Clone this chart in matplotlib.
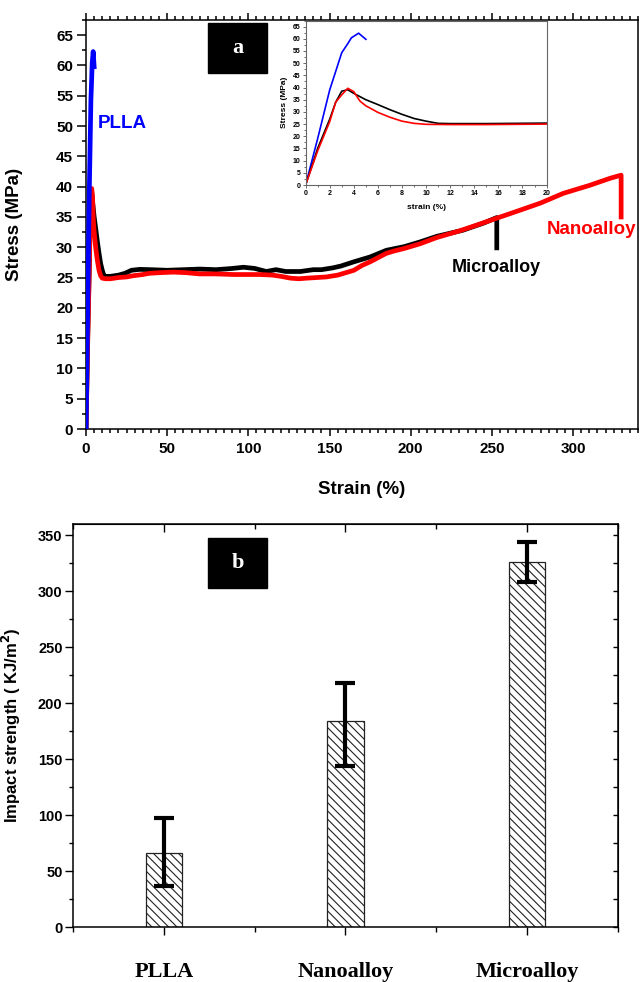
import matplotlib
matplotlib.use("Agg")
import matplotlib.pyplot as plt
from matplotlib.patches import Rectangle
from matplotlib.ticker import MultipleLocator

plt.rcParams['font.family'] = ['Liberation Sans', 'DejaVu Sans']
plt.rcParams['font.weight'] = 'bold'
plt.rcParams['hatch.linewidth'] = 0.8

# tensile curves (strain %, stress MPa)
plla_strain = [0, 1, 2, 3, 3.5, 3.8, 4.4, 5.0]
plla_stress = [0, 19, 39, 54.3, 58, 60.4, 62.3, 59.8]

nano_strain = [0, 1, 2, 2.5, 3, 3.5, 4, 4.5, 5, 6, 7, 8, 9, 10, 12, 15, 20, 25, 29,
               35, 39, 45, 54, 62, 70, 80, 91, 100, 107, 115, 120, 126, 131, 136,
               142, 148, 155, 160, 165, 170, 175, 180, 185, 190, 196, 206, 216,
               230, 240, 253, 265, 280, 294, 310, 323, 329.6, 329.6]
nano_stress = [0, 14, 26, 34, 37, 39.7, 38.3, 34.5, 32.5, 29.8, 27.8, 26.2, 25.3,
               24.9, 24.8, 24.8, 25.0, 25.1, 25.3, 25.5, 25.7, 25.8, 25.9, 25.8,
               25.6, 25.6, 25.5, 25.5, 25.5, 25.4, 25.2, 24.9, 24.8, 24.9, 25.0,
               25.1, 25.4, 25.8, 26.2, 27.0, 27.6, 28.3, 29.0, 29.4, 29.8, 30.6,
               31.6, 32.7, 33.6, 34.8, 35.9, 37.3, 38.9, 40.2, 41.4, 41.9, 35.0]

micro_strain = [0, 1, 2, 2.5, 3, 3.5, 4, 5, 6, 7, 8, 9, 10, 11, 12, 15, 20, 24,
                28, 33, 40, 50, 60, 70, 80, 90, 97, 104, 111, 117, 123, 132, 140,
                145, 152, 157, 165, 175, 185, 196, 206, 216, 232, 245, 253, 253]
micro_stress = [0, 15, 27, 34, 38.5, 39.1, 37.6, 35, 33, 30.9, 29, 27.3, 26.2,
                25.3, 25.2, 25.2, 25.4, 25.7, 26.2, 26.35, 26.3, 26.2, 26.3, 26.4,
                26.3, 26.5, 26.7, 26.5, 26.0, 26.3, 26.0, 26.0, 26.3, 26.3, 26.6,
                26.9, 27.6, 28.4, 29.5, 30.1, 30.9, 31.8, 32.8, 34.0, 34.9, 29.9]

# impact strength
samples = ['PLLA', 'Nanoalloy', 'Microalloy']
impact = [66, 184, 326]
err_low = [29, 40, 18]
err_high = [31, 34, 18]

fig = plt.figure(figsize=(6.42, 9.82), dpi=100)

# ---- panel a
ax = fig.add_axes([0.134, 0.5631, 0.8598, 0.4165])
ax.plot(plla_strain, plla_stress, color='#0000ff', lw=3.4, zorder=4)
ax.plot(micro_strain, micro_stress, color='black', lw=3.4, zorder=2)
ax.plot(nano_strain, nano_stress, color='#ff0000', lw=3.4, zorder=3)
ax.set_xlim(0, 340)
ax.set_ylim(0, 67.5)
ax.xaxis.set_major_locator(MultipleLocator(50))
ax.xaxis.set_minor_locator(MultipleLocator(5))
ax.yaxis.set_major_locator(MultipleLocator(5))
ax.yaxis.set_minor_locator(MultipleLocator(2.5))
ax.tick_params(which='both', direction='out', top=True, right=False, width=1.1,
               labelsize=11)
ax.tick_params(axis='y', which='major', length=6.3, pad=3)
ax.tick_params(axis='y', which='minor', length=3.1)
ax.tick_params(axis='x', which='major', length=5, pad=4)
ax.tick_params(axis='x', which='minor', length=3)
for s in ax.spines.values():
    s.set_linewidth(1.1)
ax.set_xlabel('Strain (%)', fontsize=13.5, fontweight='bold')
ax.set_ylabel('Stress (MPa)', fontsize=13.5, fontweight='bold')
ax.xaxis.set_label_coords(0.5, -0.127)
ax.yaxis.set_label_coords(-0.114, 0.5)
ax.text(7.4, 50.5, 'PLLA', color='#0000ff', fontsize=13.5, fontweight='bold',
        va='center', ha='left')
ax.text(284, 33.0, 'Nanoalloy', color='#ff0000', fontsize=13.5, fontweight='bold',
        va='center', ha='left', clip_on=False)
ax.text(253, 26.6, 'Microalloy', color='black', fontsize=13, fontweight='bold',
        va='center', ha='center')

# inset
ins = fig.add_axes([0.476, 0.8116, 0.3754, 0.1675])
ins.plot(plla_strain, plla_stress, color='#0000ff', lw=1.2)
ins.plot(micro_strain, micro_stress, color='black', lw=1.2)
ins.plot(nano_strain, nano_stress, color='#ff0000', lw=1.2)
ins.set_xlim(0, 20)
ins.set_ylim(0, 67.5)
ins.xaxis.set_major_locator(MultipleLocator(2))
ins.xaxis.set_minor_locator(MultipleLocator(1))
ins.yaxis.set_major_locator(MultipleLocator(5))
ins.yaxis.set_minor_locator(MultipleLocator(2.5))
ins.tick_params(which='both', direction='out', labelsize=5, width=0.6,
                color='#555555', pad=1.5)
ins.tick_params(which='major', length=2.2)
ins.tick_params(which='minor', length=1.2)
for s in ins.spines.values():
    s.set_color('#666666')
    s.set_linewidth(0.8)
ins.set_xlabel('strain (%)', fontsize=6, fontweight='bold', labelpad=5)
ins.set_ylabel('Stress (MPa)', fontsize=6, fontweight='bold', labelpad=3)

# ---- panel b
bx = fig.add_axes([0.1137, 0.056, 0.8489, 0.4104])
xpos = [1, 2, 3]
bx.bar(xpos, impact, width=0.2, color='white', edgecolor='#222222', linewidth=0.9,
       hatch='\\\\\\\\', zorder=2)
bx.errorbar(xpos, impact, yerr=[err_low, err_high], fmt='none', ecolor='black',
            elinewidth=3, capsize=7, capthick=3, zorder=3)
bx.set_xlim(0.5, 3.5)
bx.set_ylim(0, 360)
bx.set_xticks(xpos)
bx.set_xticklabels(samples, fontsize=16, fontweight='bold',
                   family=['Liberation Serif', 'DejaVu Serif'])
bx.xaxis.set_minor_locator(MultipleLocator(0.5))
bx.yaxis.set_major_locator(MultipleLocator(50))
bx.yaxis.set_minor_locator(MultipleLocator(25))
bx.tick_params(which='both', direction='out', width=1.0)
bx.tick_params(axis='y', which='major', length=5.5, labelsize=10.5, pad=2)
bx.tick_params(axis='y', which='minor', length=3)
bx.tick_params(axis='x', which='major', length=5.5, pad=20)
bx.tick_params(axis='x', which='minor', length=3.5)
for s in bx.spines.values():
    s.set_linewidth(1.1)
bx.set_ylabel('Impact strength ( KJ/m$^\\mathbf{2}$)', fontsize=12, fontweight='bold')
bx.yaxis.set_label_coords(-0.092, 0.5)

top = bx.secondary_xaxis('top')
top.set_xticks(xpos)
top.xaxis.set_minor_locator(MultipleLocator(0.5))
top.tick_params(which='both', direction='in', labeltop=False, width=1.0)
top.tick_params(which='major', length=5.5)
top.tick_params(which='minor', length=3.5)
right = bx.secondary_yaxis('right')
right.yaxis.set_major_locator(MultipleLocator(25))
right.tick_params(which='both', direction='in', labelright=False, length=3.5,
                  width=1.0)

# panel tags
for x0, y0, tag in [(208, 23, 'a'), (208, 538, 'b')]:
    fig.add_artist(Rectangle((x0 / 642, 1 - (y0 + 50) / 982), 59 / 642, 50 / 982,
                             transform=fig.transFigure, color='black'))
    fig.text((x0 + 29.5) / 642, 1 - (y0 + 25) / 982, tag, color='white',
             fontsize=16, fontweight='bold', ha='center', va='center',
             family=['Liberation Serif', 'DejaVu Serif'])

fig.savefig('out.png', dpi=100)
